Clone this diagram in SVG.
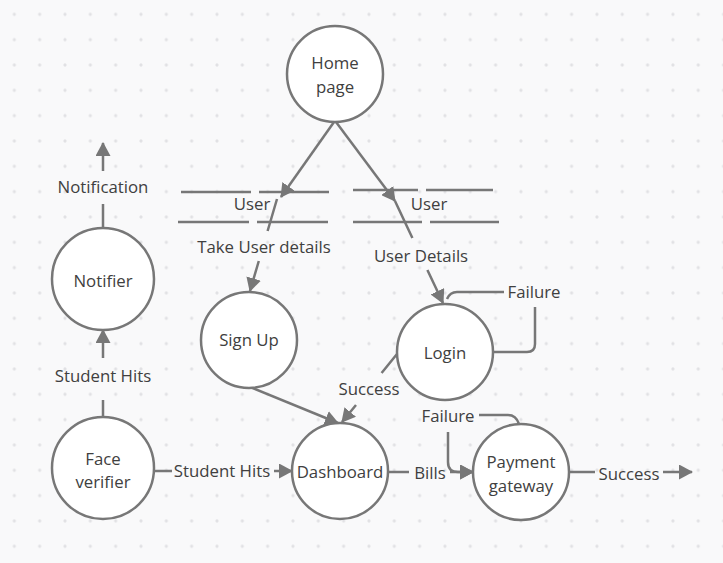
<svg xmlns="http://www.w3.org/2000/svg" width="723" height="563" viewBox="0 0 723 563">
<defs>
<pattern id="dots" x="1.67" y="1.67" width="25.33" height="25.33" patternUnits="userSpaceOnUse">
<circle cx="12.67" cy="12.67" r="1.6" fill="#e1e1e4"/>
</pattern>
<marker id="arr" viewBox="0 0 14 15" refX="13" refY="7.5" markerWidth="14" markerHeight="15" markerUnits="userSpaceOnUse" orient="auto">
<path d="M0,0 L14,7.5 L0,15 Z" fill="#777"/>
</marker>
<style>
.node circle{fill:#fff;stroke:#777;stroke-width:2.5}
.t{font-family:"Open Sans","Noto Sans",sans-serif;font-size:16.8px;fill:#404040;text-anchor:middle;dominant-baseline:central}
.c{fill:none;stroke:#777;stroke-width:2.5}
.s line{stroke:#777;stroke-width:2.5}
</style>
</defs>
<rect width="723" height="563" fill="#f9f9fa"/>
<rect width="723" height="563" fill="url(#dots)"/>

<g id="store-user-left" class="s">
<line x1="181" y1="192" x2="251" y2="192"/>
<line x1="259" y1="192" x2="329" y2="192"/>
<line x1="178" y1="222" x2="249" y2="222"/>
<line x1="257" y1="222" x2="328" y2="222"/>
<text class="t" x="252" y="203">User</text>
</g>
<g id="store-user-right" class="s">
<line x1="353" y1="190" x2="418" y2="190"/>
<line x1="426" y1="190" x2="493" y2="190"/>
<line x1="353" y1="222" x2="422" y2="222"/>
<line x1="430" y1="222" x2="499" y2="222"/>
<text class="t" x="429" y="203">User</text>
</g>

<g id="connectors">
<path class="c" d="M334,122 L281,197" marker-end="url(#arr)"/>
<path class="c" d="M277,199 L267.6,231 M258.8,261 L250,291" marker-end="url(#arr)"/>
<path class="c" d="M336,122 L395,201" marker-end="url(#arr)"/>
<path class="c" d="M395,201 L412.4,238 M427.4,270 L443,303" marker-end="url(#arr)"/>
<path class="c" d="M493,352 L527,352 Q535,352 535,344 L535,307 M504,292 L457,292 Q450,292 447,299"/>
<path class="c" d="M397,354 L381.6,373 M356,405 L342,422" marker-end="url(#arr)"/>
<path class="c" d="M250,387 L338,423" marker-end="url(#arr)"/>
<path class="c" d="M155,471 L172,471 M274,471 L292,471" marker-end="url(#arr)"/>
<path class="c" d="M103,418 L103,400 M103,358 L103,330" marker-end="url(#arr)"/>
<path class="c" d="M103,228 L103,204 M103,171 L103,143" marker-end="url(#arr)"/>
<path class="c" d="M388,472 L409,472 M450,472 L473,472" marker-end="url(#arr)"/>
<path class="c" d="M519,424 Q516,415 508,415 L479,415 M448,432 L448,462 Q448,472 458,472 L473,472" marker-end="url(#arr)"/>
<path class="c" d="M569,472 L595,472 M663,472 L692,472" marker-end="url(#arr)"/>
<text class="t" x="264" y="246">Take User details</text>
<text class="t" x="421" y="255">User Details</text>
<text class="t" x="534" y="291">Failure</text>
<text class="t" x="369" y="388">Success</text>
<text class="t" x="103" y="186">Notification</text>
<text class="t" x="103" y="375">Student Hits</text>
<text class="t" x="222" y="470">Student Hits</text>
<text class="t" x="430" y="472">Bills</text>
<text class="t" x="448" y="415">Failure</text>
<text class="t" x="629" y="473">Success</text>
</g>

<g id="home-page" class="node">
<circle cx="335" cy="74" r="48"/>
<text class="t" x="335" y="62">Home</text>
<text class="t" x="335" y="86">page</text>
</g>
<g id="notifier" class="node">
<circle cx="103" cy="279" r="51"/>
<text class="t" x="103" y="280">Notifier</text>
</g>
<g id="sign-up" class="node">
<circle cx="249" cy="340" r="48"/>
<text class="t" x="249" y="339">Sign Up</text>
</g>
<g id="login" class="node">
<circle cx="445" cy="352" r="48"/>
<text class="t" x="445" y="352">Login</text>
</g>
<g id="face-verifier" class="node">
<circle cx="103" cy="468" r="51"/>
<text class="t" x="103" y="458">Face</text>
<text class="t" x="103" y="481">verifier</text>
</g>
<g id="dashboard" class="node">
<circle cx="340" cy="471" r="48"/>
<text class="t" x="340" y="471">Dashboard</text>
</g>
<g id="payment-gateway" class="node">
<circle cx="521" cy="472" r="48"/>
<text class="t" x="521" y="461">Payment</text>
<text class="t" x="521" y="485">gateway</text>
</g>
</svg>
